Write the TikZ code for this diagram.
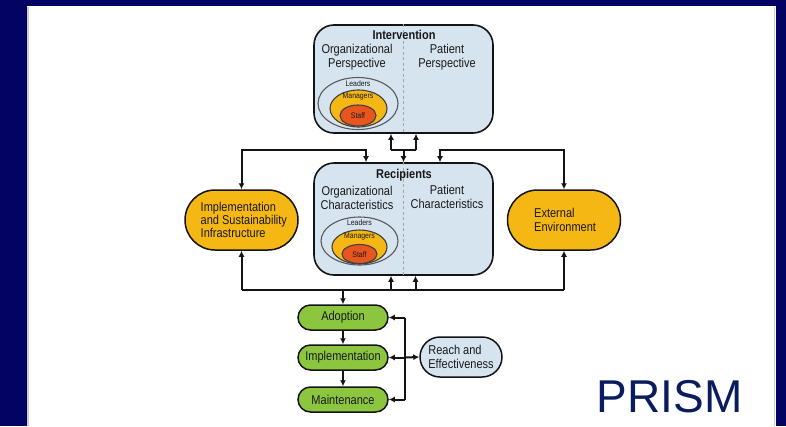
\documentclass[tikz,border=0pt]{standalone}
\usepackage{fontspec}
\setmainfont{Liberation Sans}
\newfontfamily\dfont[FakeStretch=0.86]{Liberation Sans}
\usetikzlibrary{arrows.meta,shapes.geometric}
\definecolor{navybg}{RGB}{3,3,100}
\definecolor{boxblue}{RGB}{214,228,240}
\definecolor{gold}{RGB}{245,183,20}
\definecolor{staffred}{RGB}{232,85,30}
\definecolor{leafgreen}{RGB}{140,198,63}
\definecolor{prismblue}{RGB}{10,28,95}
\definecolor{lineblack}{RGB}{20,20,20}
\tikzset{
  bigbox/.style={draw=lineblack,line width=1.6pt,fill=boxblue,rounded corners=20pt,minimum width=179pt,inner sep=0pt},
  pill/.style={draw=lineblack,line width=1.5pt,rounded corners=12.5pt,minimum height=25pt,minimum width=90pt,inner sep=0pt,font=\dfont\fontsize{12.8}{14}\selectfont,text=black!90},
  bigpill/.style={draw=lineblack,line width=1.5pt,fill=gold,rounded corners=30pt,minimum height=60pt,minimum width=113pt,inner sep=0pt},
  txt/.style={font=\dfont\fontsize{12.8}{14}\selectfont,inner sep=0pt,text=black!90},
  ttl/.style={font=\dfont\bfseries\fontsize{12.8}{14}\selectfont,inner sep=0pt,text=black!90},
  small/.style={font=\dfont\fontsize{8}{9}\selectfont,inner sep=0pt,text=black!90},
  lead/.style={ellipse,draw=black!65,line width=1.1pt,fill=boxblue,inner sep=0pt},
  mgr/.style={ellipse,draw=black!75,line width=1.1pt,fill=gold,inner sep=0pt},
  stf/.style={ellipse,draw=black!75,line width=1.1pt,fill=staffred,inner sep=0pt},
  conn/.style={draw=lineblack,line width=2pt},
  arr/.style={conn,-{Latex[length=6pt,width=6pt]}},
  divider/.style={draw=black!35,line width=0.8pt,dash pattern=on 3pt off 2.5pt},
}
\begin{document}
\begin{tikzpicture}[x=1pt,y=-1pt]
\useasboundingbox (0,0) rectangle (786,426);
\fill[navybg] (0,0) rectangle (786,426);
\fill[white] (27,6) rectangle (776,426);
\draw[black!20,line width=1.5pt] (28,7) -- (28,426);
\draw[black!20,line width=1.5pt] (774.5,7) -- (774.5,426);

% Intervention box
\node[bigbox,minimum height=108pt] (int) at (403.5,79) {};
\draw[divider] (int.north) -- (int.south);
\node[ttl] (intT) at (404,35) {Intervention};
\node[txt,align=center] (intO) at (357,57) {Organizational\\Perspective};
\node[txt,align=center] (intP) at (447,57) {Patient\\Perspective};
\node[lead,minimum width=80pt,minimum height=52pt] (intL) at (358,103.5) {};
\node[mgr,minimum width=57pt,minimum height=37pt] (intM) at (358.5,108.5) {};
\node[stf,minimum width=36pt,minimum height=21pt] (intS) at (358,115.5) {};
\node[small] (intLt) at (358,84) {Leaders};
\node[small] (intMt) at (358,97) {Managers};
\node[small] (intSt) at (358,116) {Staff};

% Recipients box
\node[bigbox,minimum height=112pt] (rec) at (403.5,219) {};
\draw[divider] (rec.north) -- (rec.south);
\node[ttl] (recT) at (404,175) {Recipients};
\node[txt,align=center] (recO) at (357,197.5) {Organizational\\Characteristics};
\node[txt,align=center] (recP) at (447,196.5) {Patient\\Characteristics};
\node[lead,minimum width=77pt,minimum height=48pt] (recL) at (359.5,241) {};
\node[mgr,minimum width=55pt,minimum height=34pt] (recM) at (359.5,247) {};
\node[stf,minimum width=35pt,minimum height=19pt] (recS) at (359.5,254) {};
\node[small] (recLt) at (359.5,223) {Leaders};
\node[small] (recMt) at (359.5,237) {Managers};
\node[small] (recSt) at (359.5,255) {Staff};

% Side boxes
\node[bigpill] (infra) at (241.5,220) {};
\node[txt,align=left,anchor=west] (infraT) at (200.5,220) {Implementation\\[-1pt]and Sustainability\\[-1pt]Infrastructure};
\node[bigpill] (ext) at (564,220) {};
\node[txt,align=left,anchor=west] (extT) at (534,220) {External\\Environment};

% Green boxes
\node[pill,fill=leafgreen] (adopt) at (343,317.5) {Adoption};
\node[pill,fill=leafgreen] (impl) at (343,357.5) {Implementation};
\node[pill,fill=leafgreen] (maint) at (343,399.5) {Maintenance};
\node[pill,fill=boxblue,minimum width=82pt,minimum height=40pt,rounded corners=20pt,align=left] (reach) at (461,357) {Reach and\\Effectiveness};

% Coordinates
\coordinate (jl) at (391,150);
\coordinate (jm) at (403.5,150);
\coordinate (jr) at (416,150);
\coordinate (cL) at (241.5,150);
\coordinate (cL2) at (366,150);
\coordinate (cR) at (564,150);
\coordinate (cR2) at (440,150);
\coordinate (bL) at (241.5,290);
\coordinate (bR) at (564,290);
\coordinate (b0) at (343,290);
\coordinate (b1) at (391,290);
\coordinate (b2) at (415.5,290);
\coordinate (v1) at (405,317.5);
\coordinate (v2) at (405,357.5);
\coordinate (v3) at (405,399.5);

% Top connectors
\draw[conn] (jl) -- (jr);
\draw[arr] (jl) -- (jl |- int.south);
\draw[arr] (jr) -- (jr |- int.south);
\draw[arr] (jm) -- (jm |- rec.north);
\draw[arr] (cL2) -- (cL) -- (infra.north);
\draw[arr] (cL) -- (cL2) -- (cL2 |- rec.north);
\draw[arr] (cR2) -- (cR) -- (ext.north);
\draw[arr] (cR) -- (cR2) -- (cR2 |- rec.north);

% Bottom connectors
\draw[conn] (bL) -- (bR);
\draw[arr] (bL) -- (infra.south);
\draw[arr] (bR) -- (ext.south);
\draw[arr] (b1) -- (b1 |- rec.south);
\draw[arr] (b2) -- (b2 |- rec.south);
\draw[arr] (b0) -- (adopt.north);

% Green chain
\draw[arr] (adopt) -- (impl);
\draw[arr] (impl) -- (maint);
\draw[conn] (v1) -- (v3);
\draw[arr] (v1) -- (adopt.east);
\draw[arr] (v2) -- (impl.east);
\draw[arr] (v3) -- (maint.east);
\draw[arr] (v2) -- (reach.west);

% Title
\node[font=\fontsize{46}{50}\selectfont,text=prismblue,anchor=base,inner sep=0pt] (prism) at (669.5,412) {PRISM};
\end{tikzpicture}
\end{document}
